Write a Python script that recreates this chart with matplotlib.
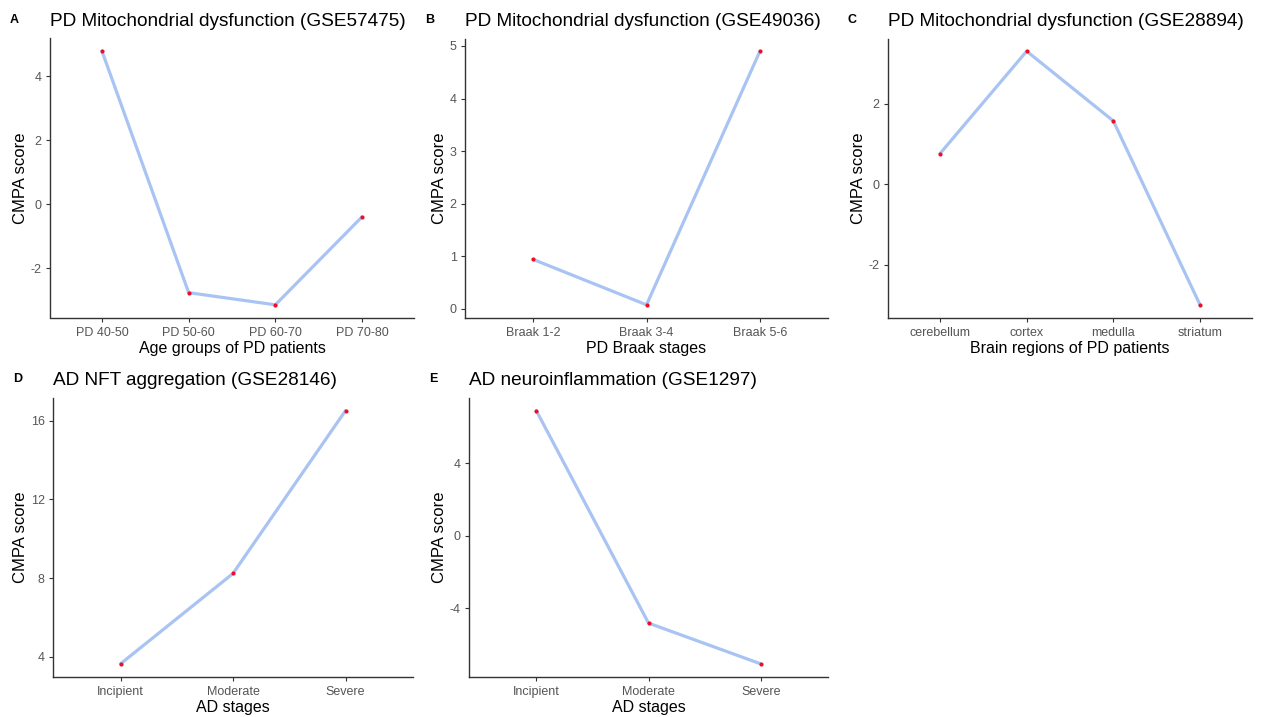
import matplotlib
matplotlib.use("Agg")
import matplotlib.pyplot as plt

plt.rcParams['font.family'] = ['Liberation Sans', 'DejaVu Sans']
plt.rcParams['axes.unicode_minus'] = False

W, H = 1264, 717

# panel data
a_labels = ["PD 40-50", "PD 50-60", "PD 60-70", "PD 70-80"]
a_scores = [4.78, -2.77, -3.15, -0.40]

b_labels = ["Braak 1-2", "Braak 3-4", "Braak 5-6"]
b_scores = [0.94, 0.076, 4.90]

c_labels = ["cerebellum", "cortex", "medulla", "striatum"]
c_scores = [0.76, 3.30, 1.57, -2.99]

d_labels = ["Incipient", "Moderate", "Severe"]
d_scores = [3.63, 8.23, 16.52]

e_labels = ["Incipient", "Moderate", "Severe"]
e_scores = [6.90, -4.83, -7.08]

panels = [
    ("A", "PD Mitochondrial dysfunction (GSE57475)", "Age groups of PD patients",
     a_labels, a_scores, [-2, 0, 2, 4], (50, 38.5, 414, 317.5)),
    ("B", "PD Mitochondrial dysfunction (GSE49036)", "PD Braak stages",
     b_labels, b_scores, [0, 1, 2, 3, 4, 5], (465, 38.5, 828, 317.5)),
    ("C", "PD Mitochondrial dysfunction (GSE28894)", "Brain regions of PD patients",
     c_labels, c_scores, [-2, 0, 2], (888, 38.5, 1252, 317.5)),
    ("D", "AD NFT aggregation (GSE28146)", "AD stages",
     d_labels, d_scores, [4, 8, 12, 16], (53, 398, 413, 676.5)),
    ("E", "AD neuroinflammation (GSE1297)", "AD stages",
     e_labels, e_scores, [-4, 0, 4], (469, 398, 828, 676.5)),
]

fig = plt.figure(figsize=(W / 100, H / 100), dpi=100)

for tag, title, xlab, labels, scores, yticks, box in panels:
    x0, y0, x1, y1 = box
    ax = fig.add_axes([x0 / W, 1 - y1 / H, (x1 - x0) / W, (y1 - y0) / H])
    xs = list(range(1, len(labels) + 1))
    ax.plot(xs, scores, color="#a9c4f2", lw=2.3, solid_capstyle="round", zorder=2)
    ax.scatter(xs, scores, s=9, color="#e8112d", zorder=3, linewidths=0)

    # ggplot-like expansion
    lo, hi = min(scores), max(scores)
    pad = (hi - lo) * 0.05
    ax.set_ylim(lo - pad, hi + pad)
    ax.set_xlim(0.4, len(labels) + 0.6)
    ax.set_xticks(xs)
    ax.set_xticklabels(labels)
    ax.set_yticks(yticks)

    for s in ["top", "right"]:
        ax.spines[s].set_visible(False)
    for s in ["left", "bottom"]:
        ax.spines[s].set_color("#333333")
        ax.spines[s].set_linewidth(1.0)
    ax.tick_params(axis="both", colors="#333333", labelcolor="#555555",
                   labelsize=9, length=3, width=0.8)
    ax.tick_params(axis="x", pad=4)
    ax.tick_params(axis="y", pad=3)

    ax.set_xlabel(xlab, fontsize=11.5, color="black", labelpad=1)
    ax.set_ylabel("CMPA score", fontsize=12, color="black", labelpad=2)

    fig.text((x0 + 0) / W, 1 - 21 / H - (y0 - 38.5) / H, title,
             fontsize=13.7, ha="left", va="center")
    fig.text((x0 - 40) / W, 1 - 20 / H - (y0 - 38.5) / H, tag,
             fontsize=9, fontweight="bold", ha="left", va="center")

fig.savefig("out.png", dpi=100, facecolor="white")
